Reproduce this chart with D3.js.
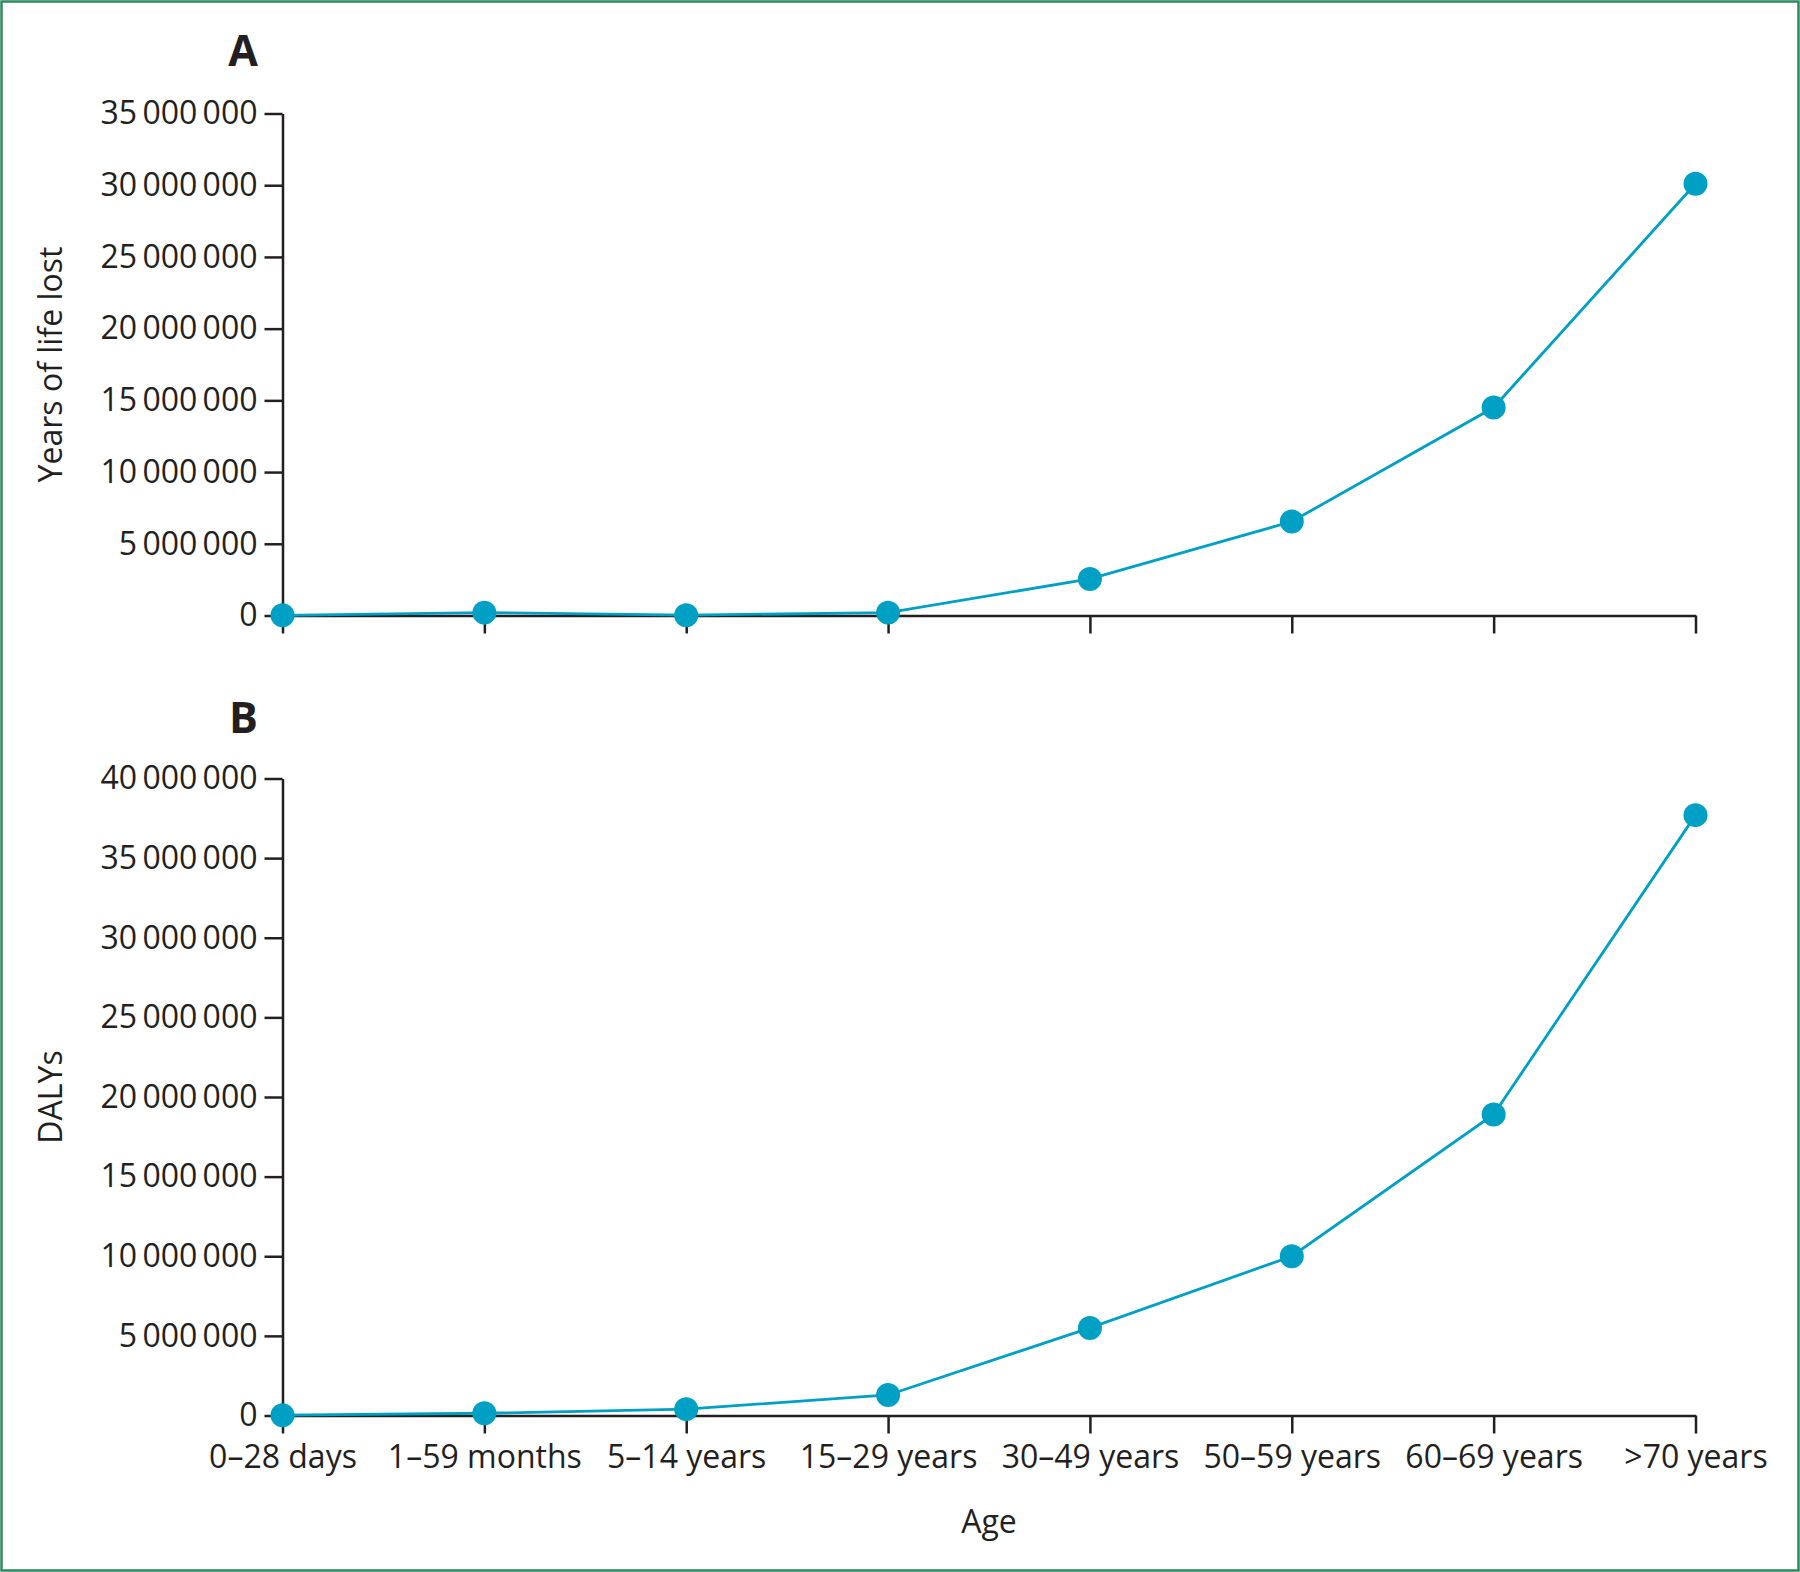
<!DOCTYPE html>
<html>
<head>
<meta charset="utf-8">
<script src="https://cdn.jsdelivr.net/npm/d3@7"></script>
<style>
html, body { margin: 0; padding: 0; background: #fff; }
svg text { font-family: "Open Sans", "Noto Sans", sans-serif; fill: #231f20; }
</style>
</head>
<body>
<svg id="chart" width="1800" height="1572"></svg>
<script>
// ---- data ----
const ageGroups = ["0\u201328 days", "1\u201359 months", "5\u201314 years", "15\u201329 years",
                   "30\u201349 years", "50\u201359 years", "60\u201369 years", ">70 years"];
const yllValues  = [10000, 200000, 20000, 200000, 2550000, 6550000, 14500000, 30100000];
const dalyValues = [20000, 140000, 400000, 1290000, 5500000, 10000000, 18900000, 37700000];
const yllTicks  = [0, 5000000, 10000000, 15000000, 20000000, 25000000, 30000000, 35000000];
const dalyTicks = [0, 5000000, 10000000, 15000000, 20000000, 25000000, 30000000, 35000000, 40000000];
const panelLabels = ["A", "B"];
const yTitles = ["Years of life lost", "DALYs"];
const xTitle = "Age";

// ---- styles ----
const lineColor = "#00a0c4";
const axisColor = "#231f20";
const fontSize = 32;

const svg = d3.select("#chart");

svg.append("rect")
  .attr("x", 1.5).attr("y", 1.5)
  .attr("width", 1797).attr("height", 1569)
  .attr("fill", "none").attr("stroke", "#2b8a5d").attr("stroke-width", 2.5);

const locale = d3.formatLocale({ decimal: ".", thousands: "\u2009", grouping: [3], currency: ["", ""] });
const fmt = locale.format(",d");

const x = d3.scalePoint().domain(ageGroups).range([282.5, 1695.5]);

const panels = [
  { label: panelLabels[0], title: yTitles[0], values: yllValues, ticks: yllTicks,
    y: d3.scaleLinear().domain([0, 35000000]).range([615.5, 113.5]), showX: false, labelY: 66 },
  { label: panelLabels[1], title: yTitles[1], values: dalyValues, ticks: dalyTicks,
    y: d3.scaleLinear().domain([0, 40000000]).range([1415.5, 778.5]), showX: true, labelY: 733 }
];

panels.forEach(p => {
  const g = svg.append("g");
  const y = p.y;
  const y0 = y.range()[0];

  // y axis
  const ya = g.append("g")
    .attr("transform", "translate(282.5,0)")
    .call(d3.axisLeft(y).tickValues(p.ticks).tickFormat(fmt).tickSize(18).tickSizeOuter(0).tickPadding(7));
  // x axis
  const xa = g.append("g")
    .attr("transform", `translate(0,${y0})`)
    .call(d3.axisBottom(x).tickSize(18).tickSizeOuter(0).tickPadding(12)
      .tickFormat(p.showX ? (d => d) : () => ""));

  [ya, xa].forEach(a => {
    a.selectAll("path.domain").attr("stroke", axisColor).attr("stroke-width", 2.5);
    a.selectAll(".tick line").attr("stroke", axisColor).attr("stroke-width", 2.5);
    a.selectAll(".tick text").attr("font-size", fontSize).attr("fill", axisColor)
      .style("font-family", '"Open Sans", sans-serif');
    a.attr("font-family", null).attr("font-size", null);
  });

  // panel label
  g.append("text")
    .attr("x", 258).attr("y", p.labelY)
    .attr("text-anchor", "end")
    .attr("font-size", 43).attr("font-weight", "bold")
    .text(p.label);

  // y title
  const cy = (y.range()[0] + y.range()[1]) / 2;
  g.append("text")
    .attr("transform", `translate(62,${cy}) rotate(-90)`)
    .attr("text-anchor", "middle")
    .attr("font-size", fontSize)
    .text(p.title);

  // line
  const line = d3.line().x((d, i) => x(ageGroups[i])).y(d => y(d));
  g.append("path")
    .datum(p.values)
    .attr("d", line)
    .attr("fill", "none")
    .attr("stroke", lineColor)
    .attr("stroke-width", 2.8);

  g.selectAll("circle")
    .data(p.values)
    .join("circle")
    .attr("cx", (d, i) => x(ageGroups[i]))
    .attr("cy", d => y(d))
    .attr("r", 12)
    .attr("fill", lineColor);
});

// x title
svg.append("text")
  .attr("x", (x.range()[0] + x.range()[1]) / 2)
  .attr("y", 1533)
  .attr("text-anchor", "middle")
  .attr("font-size", fontSize)
  .text(xTitle);
</script>
</body>
</html>
